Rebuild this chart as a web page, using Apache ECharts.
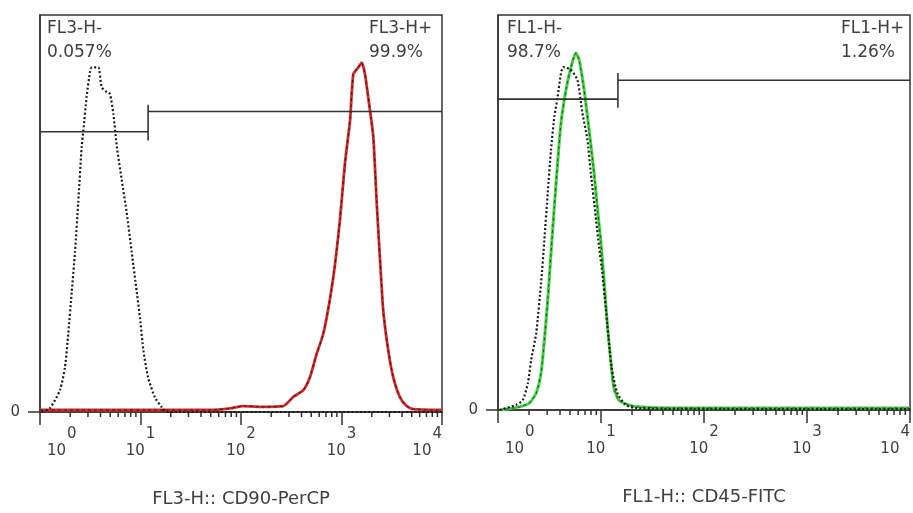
<!DOCTYPE html>
<html>
<head>
<meta charset="utf-8">
<script src="https://cdn.jsdelivr.net/npm/echarts@6/dist/echarts.min.js"></script>
<style>
  html, body { margin: 0; padding: 0; background: #fff; }
  #chart { width: 913px; height: 513px; }
</style>
</head>
<body>
<div id="chart"></div>
<script>
// x = fluorescence intensity (log scale), y = % of max count
const decadeValues = [1, 10, 100, 1000, 10000];

// left panel: CD90-PerCP
const fl3Isotype = [
  [1.04, 0], [1.26, 1.0], [1.58, 5.5], [1.77, 11.2], [1.91, 19.7], [2.07, 30.3],
  [2.23, 40.3], [2.40, 52.7], [2.60, 66.9], [2.70, 70.9], [2.91, 79.4], [3.15, 85.8],
  [3.27, 86.8], [3.80, 86.8], [4.11, 81.8], [4.61, 80.6], [4.97, 80.1], [5.37, 75.1],
  [5.81, 66.9], [6.50, 58.5], [7.29, 50.2], [8.17, 40.3], [9.17, 30.3], [9.89, 23.6],
  [10.7, 15.4], [11.9, 8.7], [13.9, 3.7], [16.3, 1.2], [18.2, 0], [10000, 0]
];
const fl3Cd90 = [
  [1, 0.5], [30, 0.5], [49.2, 0.5], [77.8, 0.9], [105, 1.5], [155, 1.3], [264, 1.5],
  [331, 3.8], [417, 5.5], [486, 8.8], [567, 14.7], [659, 19.7], [769, 28.6], [861, 37.1],
  [966, 48.5], [1083, 62.7], [1216, 73.4], [1311, 85.1], [1470, 86.8], [1588, 88.0],
  [1713, 85.1], [1922, 75.9], [2072, 69.4], [2240, 52.7], [2415, 38.6], [2605, 25.4],
  [2924, 15.4], [3275, 8.7], [3819, 3.7], [4455, 1.5], [5180, 0.7], [9550, 0.5], [10000, 0.5]
];
const fl3GateNeg = [[1, 70.6], [11.9, 70.6]];
const fl3GatePos = [[11.9, 75.7], [10000, 75.7]];
const fl3GateMark = [[11.9, 68.4], [11.9, 77.4]];
const fl3Texts = ['FL3-H-', '0.057%', 'FL3-H+', '99.9%'];

// right panel: CD45-FITC
const fl1Isotype = [
  [1.04, 0], [1.50, 1.3], [1.74, 2.5], [1.95, 6.8], [2.10, 12.7], [2.35, 19.5],
  [2.62, 32.2], [2.82, 43.0], [3.04, 55.0], [3.27, 65.8], [3.52, 74.2], [3.79, 79.2],
  [4.09, 85.3], [4.30, 86.8], [5.11, 86.1], [5.91, 83.5], [6.60, 75.2], [7.38, 68.4],
  [7.96, 60.0], [8.89, 48.9], [9.57, 41.3], [10.3, 34.7], [11.1, 26.1], [11.9, 17.7],
  [12.8, 10.1], [14.4, 4.3], [17.3, 1.3], [21.6, 0.5], [40, 0.3], [10000, 0.2]
];
const fl1Cd45 = [
  [1.04, 0], [1.62, 0.8], [2.02, 1.8], [2.35, 4.3], [2.62, 9.4], [2.82, 17.7],
  [3.04, 27.8], [3.27, 39.7], [3.52, 51.4], [3.79, 62.5], [4.09, 72.7], [4.57, 81.0],
  [5.11, 86.8], [5.70, 90.4], [6.14, 88.6], [6.86, 81.0], [7.66, 70.9], [8.56, 60.0],
  [9.21, 51.4], [9.93, 43.0], [10.7, 32.9], [11.5, 22.0], [12.4, 12.7], [13.3, 5.8],
  [14.9, 2.5], [18.6, 1.3], [22.4, 0.8], [50, 0.5], [10000, 0.5]
];
const fl1GateNeg = [[1, 78.7], [14.6, 78.7]];
const fl1GatePos = [[14.6, 83.5], [10000, 83.5]];
const fl1GateMark = [[14.6, 76.5], [14.6, 85.3]];
const fl1Texts = ['FL1-H-', '98.7%', 'FL1-H+', '1.26%'];

const axisNames = ['FL3-H:: CD90-PerCP', 'FL1-H:: CD45-FITC'];

// log minor ticks 2..9 in each decade
const minorTicks = [];
decadeValues.slice(0, -1).forEach(d => {
  for (let k = 2; k < 10; k++) minorTicks.push([d * k, 0]);
});

const FONT = '"DejaVu Sans", sans-serif';
const INK = '#333';
const TEXT = '#404040';

const chart = echarts.init(document.getElementById('chart'));

const xAxisFor = (idx, name) => ({
  type: 'log', logBase: 10, gridIndex: idx, min: 1, max: 10000,
  name: name, nameLocation: 'middle', nameGap: 78,
  nameTextStyle: { fontFamily: FONT, fontSize: 18, color: TEXT },
  axisLine: { lineStyle: { color: INK, width: 1.5 } },
  axisTick: { customValues: decadeValues, length: 13, lineStyle: { color: INK, width: 1.5 } },
  axisLabel: {
    customValues: decadeValues, margin: 15, alignMinLabel: 'left', alignMaxLabel: 'right',
    formatter: v => (v === 1 ? '{g|}' : '') + '{b|10}{s|' + Math.round(Math.log10(v)) + '}',
    rich: {
      g: { width: 7, lineHeight: 32 },
      b: { fontFamily: FONT, fontSize: 15, color: TEXT, lineHeight: 32, verticalAlign: 'bottom' },
      s: { fontFamily: FONT, fontSize: 15, color: TEXT, lineHeight: 32, verticalAlign: 'top', padding: [0, 0, 0, 1] }
    }
  },
  splitLine: { show: false }
});

const yAxisFor = idx => ({
  type: 'value', gridIndex: idx, min: 0, max: 100,
  axisLine: { show: true, lineStyle: { color: INK, width: 1.5 } },
  axisTick: { customValues: [0], length: 12, lineStyle: { color: INK, width: 1.5 } },
  axisLabel: { customValues: [0], margin: 20, fontFamily: FONT, fontSize: 15, color: TEXT,
               verticalAlign: 'middle', padding: [0, 0, 10, 0] },
  splitLine: { show: false }
});

const lineSeries = (idx, data, style, z) => ({
  type: 'line', xAxisIndex: idx, yAxisIndex: idx, data: data,
  showSymbol: false, symbol: 'none', smooth: 0.2, z: z,
  lineStyle: style, animation: false, silent: true
});

const gateSeries = (idx, data) => lineSeries(idx, data, { color: INK, width: 1.6 }, 5);

const minorTickSeries = idx => ({
  type: 'custom', xAxisIndex: idx, yAxisIndex: idx, data: minorTicks, clip: false, silent: true,
  renderItem: (params, api) => {
    const p = api.coord([api.value(0), 0]);
    return { type: 'line', shape: { x1: p[0], y1: p[1], x2: p[0], y2: p[1] + 5 },
             style: { stroke: INK, lineWidth: 1.5 } };
  }
});

const option = {
  animation: false,
  grid: [
    { left: 40, top: 15, width: 402, height: 402, show: true, borderColor: INK, borderWidth: 1.5 },
    { left: 498, top: 15, width: 416, height: 395, show: true, borderColor: INK, borderWidth: 1.5 }
  ],
  xAxis: [xAxisFor(0, axisNames[0]), xAxisFor(1, axisNames[1])],
  yAxis: [yAxisFor(0), yAxisFor(1)],
  series: [
    lineSeries(0, fl3Cd90, { color: '#d42a2a', width: 2.8 }, 2),
    lineSeries(0, fl3Cd90, { color: '#3b1414', width: 1, type: [3, 3] }, 3),
    lineSeries(0, fl3Isotype, { color: '#1a1a1a', width: 2.2, type: [2, 2.2] }, 4),
    gateSeries(0, fl3GateNeg), gateSeries(0, fl3GatePos), gateSeries(0, fl3GateMark),
    minorTickSeries(0),
    lineSeries(1, fl1Cd45, { color: '#3fd33f', width: 3 }, 2),
    lineSeries(1, fl1Cd45, { color: '#2a4a2a', width: 1, type: [3, 3] }, 3),
    lineSeries(1, fl1Isotype, { color: '#1a1a1a', width: 2.2, type: [2, 2.2] }, 4),
    gateSeries(1, fl1GateNeg), gateSeries(1, fl1GatePos), gateSeries(1, fl1GateMark),
    minorTickSeries(1)
  ],
  graphic: [
    [fl3Texts, 47, 369], [fl1Texts, 507, 841]
  ].flatMap(([t, xl, xr]) => [
    { type: 'text', x: xl, y: 29, style: { text: t[0], font: '17px ' + FONT, fill: TEXT, verticalAlign: 'middle' } },
    { type: 'text', x: xl, y: 53, style: { text: t[1], font: '17px ' + FONT, fill: TEXT, verticalAlign: 'middle' } },
    { type: 'text', x: xr, y: 29, style: { text: t[2], font: '17px ' + FONT, fill: TEXT, verticalAlign: 'middle' } },
    { type: 'text', x: xr, y: 53, style: { text: t[3], font: '17px ' + FONT, fill: TEXT, verticalAlign: 'middle' } }
  ])
};

chart.setOption(option);
</script>
</body>
</html>
